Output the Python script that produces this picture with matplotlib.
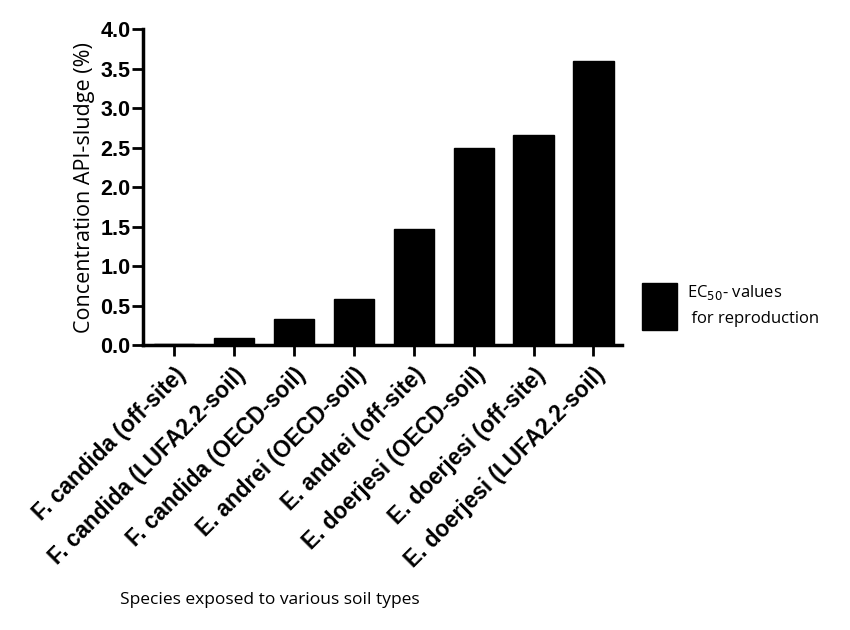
import numpy as np
import matplotlib.pyplot as plt

species = ['F. candida (off-site)', 'F. candida (LUFA2.2-soil)', 'F. candida (OECD-soil)',
           'E. andrei (OECD-soil)', 'E. andrei (off-site)', 'E. doerjesi (OECD-soil)',
           'E. doerjesi (off-site)', 'E. doerjesi (LUFA2.2-soil)']
ec50 = [0.02, 0.09, 0.33, 0.59, 1.47, 2.50, 2.66, 3.60]
yticks = [0.0, 0.5, 1.0, 1.5, 2.0, 2.5, 3.0, 3.5, 4.0]

fig = plt.figure(figsize=(8.5, 6.3), dpi=100)
ax = fig.add_axes([0.168, 0.452, 0.564, 0.502])

x = np.arange(len(species))
ax.bar(x, ec50, width=0.67, color='black', edgecolor='black',
       label='EC$_{50}$- values\n for reproduction')

ax.set_xlim(-0.52, 7.48)
ax.set_ylim(0, 4.0)
ax.set_yticks(yticks)
ax.set_yticklabels(['%.1f' % v for v in yticks], fontsize=15.5, fontweight='bold',
                   family='Liberation Sans')
ax.set_xticks(x)
ax.set_xticklabels(species, rotation=45, ha='right', rotation_mode='anchor',
                   fontsize=16.3, fontweight='bold', family='Liberation Sans')

for s in ['top', 'right']:
    ax.spines[s].set_visible(False)
for s in ['left', 'bottom']:
    ax.spines[s].set_linewidth(2.5)
ax.tick_params(axis='both', direction='out', length=8, width=2)
ax.tick_params(axis='y', pad=1)
ax.tick_params(axis='x', pad=5)

ax.set_ylabel('Concentration API-sludge (%)', fontsize=15.5, family='Open Sans')
fig.text(0.318, 0.048, 'Species exposed to various soil types', fontsize=12.5,
         family='Open Sans', ha='center', va='center')

leg = ax.legend(loc='center left', bbox_to_anchor=(1.01, 0.123), frameon=False,
                handlelength=2.1, handleheight=3.96, handletextpad=0.6,
                prop={'family': 'Open Sans', 'size': 12})
for t in leg.get_texts():
    t.set_linespacing(1.7)

plt.savefig('out.png', dpi=100)
